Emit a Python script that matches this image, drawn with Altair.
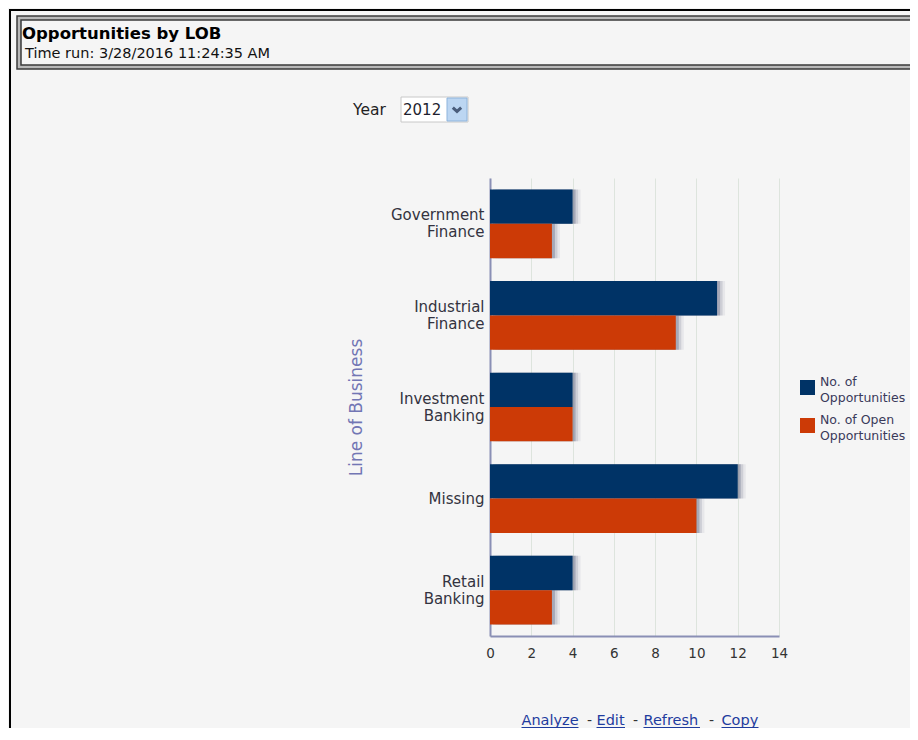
import altair as alt
import pandas as pd

# ---------------- data ----------------
categories = ["Government Finance", "Industrial Finance", "Investment Banking", "Missing", "Retail Banking"]
series = ["No. of Opportunities", "No. of Open Opportunities"]
opportunities = [4, 11, 4, 12, 4]
open_opportunities = [3, 9, 4, 10, 3]
x_ticks = [0, 2, 4, 6, 8, 10, 12, 14]
x_domain = [0, 14]

title_text = "Opportunities by LOB"
time_text = "Time run: 3/28/2016 11:24:35 AM"
year_label = "Year"
year_value = "2012"
y_title = "Line of Business"
links = ["Analyze", "Edit", "Refresh", "Copy"]

rows = []
for c, a, b in zip(categories, opportunities, open_opportunities):
    rows.append({"lob": c, "series": series[0], "count": a})
    rows.append({"lob": c, "series": series[1], "count": b})
df = pd.DataFrame(rows)
one = pd.DataFrame({"k": [0]})

# ---------------- style ----------------
NAVY = "#003366"
ORANGE = "#cc3a06"
COLORS = [NAVY, ORANGE]
FONT = "DejaVu Sans"
BG = "#f5f5f5"
W, H = 289, 458
OX, OY = 490, 178          # page position of plot origin
PAD_L, PAD_T = OX - 8, OY - 8
SVG_W, SVG_H = 902, 720


def px(x):
    return x - OX


def py(y):
    return y - OY


y_enc = alt.Y(
    "lob:N", sort=categories,
    scale=alt.Scale(paddingInner=0.25, paddingOuter=0.125),
    axis=alt.Axis(
        title=y_title, titleFont=FONT, titleFontSize=17, titleFontWeight="normal",
        titleColor="#7276b4", titleX=px(356), titleY=H / 2, titleBaseline="middle",
        titleAlign="center", titleAngle=270,
        labelExpr="split(datum.label, ' ')", labelFont=FONT, labelFontSize=15,
        labelColor="#333340", labelLineHeight=17, labelPadding=6, labelLimit=0,
        labelOffset={"condition": {"test": "indexof(datum.label, ' ') < 0", "value": 0}, "value": -8.5},
        ticks=False, tickSize=0, domainColor="#8a8fb5", domainWidth=2, grid=False,
    ),
)
x_enc = alt.X(
    "count:Q",
    scale=alt.Scale(domain=x_domain, nice=False),
    axis=alt.Axis(
        title=None, values=x_ticks, format="d", labelFont=FONT, labelFontSize=13.5,
        labelColor="#333333", ticks=False, tickSize=0, labelPadding=10,
        labelFlush=False, domainColor="#8a8fb5", domainWidth=2,
        grid=True, gridColor="#dde4dd", gridWidth=1,
    ),
)
yoff = alt.YOffset("series:N", sort=series)
color = alt.Color("series:N", sort=series,
                  scale=alt.Scale(domain=series, range=COLORS), legend=None)

base = alt.Chart(df)
shadow3 = base.mark_bar(xOffset=8, yOffset=8, color="#4a5070", opacity=0.08).encode(
    x=x_enc, y=y_enc, yOffset=yoff)
shadow2 = base.mark_bar(xOffset=5.5, yOffset=5.5, color="#4a5070", opacity=0.16).encode(
    x=x_enc, y=y_enc, yOffset=yoff)
shadow1 = base.mark_bar(xOffset=3, yOffset=3, color="#4a5070", opacity=0.3).encode(
    x=x_enc, y=y_enc, yOffset=yoff)
bars = base.mark_bar().encode(x=x_enc, y=y_enc, yOffset=yoff, color=color)


def rect(x1, y1, x2, y2, **kw):
    return alt.Chart(one).mark_rect(**kw).encode(
        x=alt.value(px(x1)), x2=alt.value(px(x2)),
        y=alt.value(py(y1)), y2=alt.value(py(y2)))


def text(t, x, y, **kw):
    opts = dict(font=FONT, align="left", baseline="alphabetic")
    opts.update(kw)
    return alt.Chart(one).mark_text(**opts).encode(
        x=alt.value(px(x)), y=alt.value(py(y)), text=alt.value(t))


def rule(x1, x2, y, col):
    return alt.Chart(one).mark_rule(color=col, strokeWidth=1).encode(
        x=alt.value(px(x1)), x2=alt.value(px(x2)), y=alt.value(py(y)))


frame = rect(10, 10, 1000, 1000, fillOpacity=0, stroke="#000000", strokeWidth=2)
head_outer = rect(17, 16, 1000, 69, fill="#b8b8b8", stroke="#3a3a3a", strokeWidth=1.5)
head_inner = rect(21, 20, 1000, 65, fill=BG, stroke="#3a3a3a", strokeWidth=1.5)
t_title = text(title_text, 22, 38.5, fontSize=16.5, fontWeight="bold", color="#000000")
t_time = text(time_text, 25, 58, fontSize=14.5, color="#111111")

t_year = text(year_label, 353, 115, fontSize=15.5, color="#1f1f1f")
drop_box = rect(401, 97, 468, 122, fill="#ffffff", stroke="#c8c8c8", strokeWidth=1)
drop_btn = rect(447, 98, 467, 121, fill="#bcd6f2", stroke="#8eb4dc", strokeWidth=1)
drop_arrow = alt.Chart(one).mark_point(
    shape="M-1,-0.45L0,0.45L1,-0.45", filled=False, stroke="#1a2a4a", strokeWidth=3, size=70
).encode(x=alt.value(px(457)), y=alt.value(py(109.5)))
t_yearv = text(year_value, 403, 115, fontSize=15, color="#1f1f2f")

# legend (drawn by hand so that the two-line labels sit centred on their swatches)
legend_layers = []
for i, (name, col) in enumerate(zip(series, COLORS)):
    top = 380 + 38 * i
    legend_layers.append(rect(800, top, 815, top + 15, fill=col))
    words = name.rsplit(" ", 1)
    legend_layers.append(text(words, 820, top + 1.5, fontSize=12.5, color="#3a3a5a",
                              baseline="middle", lineHeight=16))

LINK = "#1f3c9e"
link_pos = [(521.5, 578.5), (596.5, 625), (643.5, 700), (721.5, 758.5)]
dash_pos = [587, 633, 709]
link_layers = []
for name, (a, b) in zip(links, link_pos):
    link_layers.append(text(name, a, 725, fontSize=14.5, color=LINK))
    link_layers.append(rule(a, b, 727.5, LINK))
for d in dash_pos:
    link_layers.append(text("-", d, 725, fontSize=14, color="#333333"))

chart = alt.layer(
    frame, head_outer, head_inner, t_title, t_time,
    drop_box, drop_btn, drop_arrow, t_year, t_yearv,
    shadow3, shadow2, shadow1, bars, *legend_layers, *link_layers,
).properties(
    width=W, height=H,
    padding={"left": PAD_L, "top": PAD_T, "right": SVG_W - PAD_L - W, "bottom": SVG_H - PAD_T - H},
    autosize=alt.AutoSizeParams(type="none"),
    background=BG,
).configure_view(stroke="transparent")

chart.save("out.html", embed_options={"renderer": "svg", "actions": False})
